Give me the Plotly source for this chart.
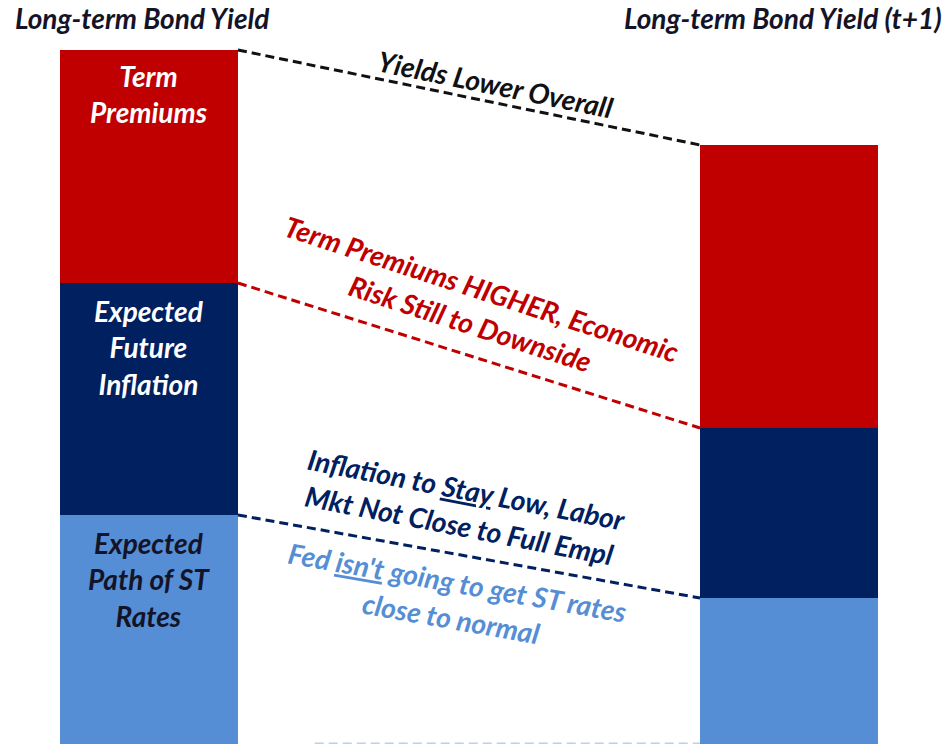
import plotly.graph_objects as go
import numpy as np

# Components of the long-term bond yield, stacked bottom to top
bars = ["Long-term Bond Yield", "Long-term Bond Yield (t+1)"]
st_rates = [2.29, 1.46]          # Expected Path of ST Rates
inflation = [2.32, 1.70]         # Expected Future Inflation
term_prem = [2.33, 2.83]         # Term Premiums

RED = "#C00000"
NAVY = "#002060"
LIGHT = "#558ED5"
FONT = "Lato"

x_pos = [0, 1]
bar_w = 0.278

fig = go.Figure()
for name, vals, col in [("Expected Path of ST Rates", st_rates, LIGHT),
                        ("Expected Future Inflation", inflation, NAVY),
                        ("Term Premiums", term_prem, RED)]:
    fig.add_trace(go.Bar(x=x_pos, y=vals, name=name, width=bar_w,
                         marker=dict(color=col, line=dict(width=0)),
                         hoverinfo="skip"))

# Segment tops for each bar
tops_st = np.array(st_rates)
tops_inf = tops_st + np.array(inflation)
tops_tp = tops_inf + np.array(term_prem)

# Dashed connectors from the right edge of the first bar to the left edge of the second
x_left = x_pos[0] + bar_w / 2
x_right = x_pos[1] - bar_w / 2
for tops, col in [(tops_tp, "#111111"), (tops_inf, RED), (tops_st, NAVY)]:
    fig.add_trace(go.Scatter(x=[x_left, x_right], y=[tops[0], tops[1]],
                             mode="lines", hoverinfo="skip",
                             line=dict(color=col, width=3, dash="9px,5px")))
# Floor connector (mostly below the visible area)
fig.add_trace(go.Scatter(x=[x_left + 0.12, x_right], y=[0, 0], mode="lines",
                         hoverinfo="skip", opacity=0.4,
                         line=dict(color=LIGHT, width=3, dash="9px,5px")))

ann = []


def txt(x, y, s, color, size, angle=0, **kw):
    ann.append(dict(x=x, y=y, xref="x", yref="y", text=s, showarrow=False,
                    textangle=angle, align="center",
                    font=dict(family=FONT, size=size, color=color,
                              weight="bold", style="italic"), **kw))


# Bar titles
txt(x_pos[0] - 0.01, 7.26, bars[0], "#141428", 28)
txt(x_pos[1] - 0.01, 7.26, bars[1], "#141428", 28)

# Labels inside the first bar
txt(x_pos[0], tops_tp[0] - 0.065, "Term<br>Premiums", "white", 28, yanchor="top")
txt(x_pos[0], tops_inf[0] - 0.09, "Expected<br>Future<br>Inflation", "white", 28, yanchor="top")
txt(x_pos[0], tops_st[0] - 0.09, "Expected<br>Path of ST<br>Rates", "#141428", 28, yanchor="top")

# Commentary along the connectors
txt(0.541, 6.60, "Yields Lower Overall", "#111111", 28, angle=11.5)
txt(0.512, 4.38, "Term Premiums HIGHER, Economic<br>Risk Still to Downside", RED, 28, angle=18)
txt(0.491, 2.37, "Inflation to <u>Stay</u> Low, Labor<br>Mkt Not Close to Full Empl", NAVY, 28, angle=11)
txt(0.478, 1.44, "Fed <u>isn't</u> going to get ST rates<br>close to normal", LIGHT, 28, angle=10)

fig.update_layout(
    width=948, height=744,
    margin=dict(l=0, r=0, t=0, b=0),
    paper_bgcolor="white", plot_bgcolor="white",
    barmode="stack", bargap=0, showlegend=False,
    xaxis=dict(range=[-0.2328, 1.2484], visible=False, fixedrange=True),
    yaxis=dict(range=[0, 7.44], visible=False, fixedrange=True),
    annotations=ann,
)

fig.write_html("out.html")
